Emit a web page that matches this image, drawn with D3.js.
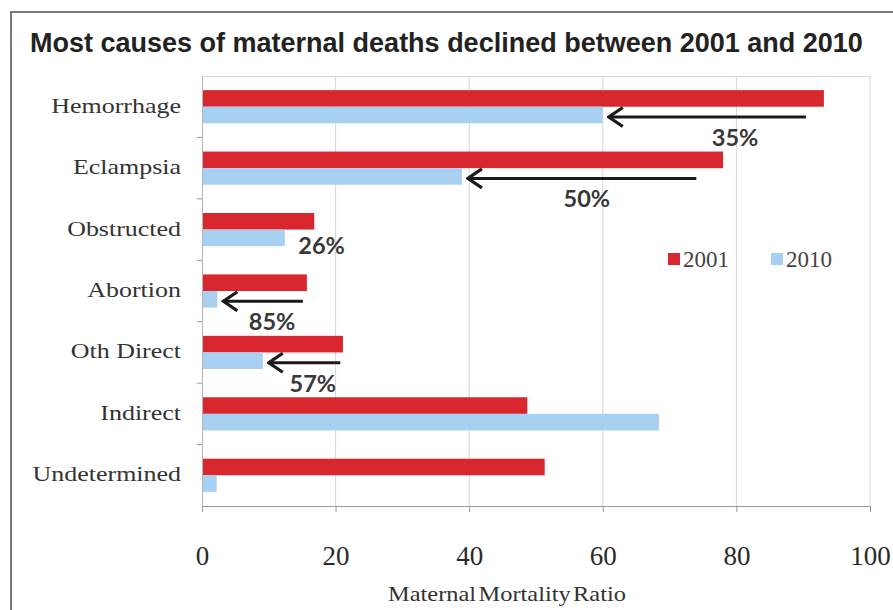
<!DOCTYPE html>
<html>
<head>
<meta charset="utf-8">
<script src="https://cdn.jsdelivr.net/npm/d3@7"></script>
<style>
  html, body { margin: 0; padding: 0; background: #fff; }
  svg { display: block; }
</style>
</head>
<body>
<svg id="chart" width="893" height="610"></svg>
<script>
// Causes of maternal death, maternal mortality ratio in 2001 and 2010
const categories = ["Hemorrhage", "Eclampsia", "Obstructed", "Abortion", "Oth Direct", "Indirect", "Undetermined"];
const values2001 = [93.1, 78.0, 16.8, 15.7, 21.1, 48.7, 51.3];
const values2010 = [60.0, 38.9, 12.4, 2.3, 9.1, 68.4, 2.2];
const seriesNames = ["2001", "2010"];
const xTicks = [0, 20, 40, 60, 80, 100];

// Decline annotations: category, arrow tail value (null = no arrow), label text, label centre value
const declineCats = ["Hemorrhage", "Eclampsia", "Obstructed", "Abortion", "Oth Direct"];
const declineArrowFrom = [90.4, 74.0, null, 15.1, 20.7];
const declineLabels = ["35%", "50%", "26%", "85%", "57%"];
const declineLabelAt = [79.8, 57.6, 17.9, 10.5, 16.6];

const colors = { "2001": "#d8272e", "2010": "#a8d1f1" };
const serif = "Liberation Serif, Times New Roman, serif";

const svg = d3.select("#chart");
const W = 893, H = 610;
const m = { left: 202, right: 23, top: 76, bottom: 104 };

// outer frame
svg.append("rect").attr("x", 11).attr("y", 12).attr("width", W).attr("height", H)
  .attr("fill", "#fff").attr("stroke", "#7a7a7a").attr("stroke-width", 2);

svg.append("text")
  .attr("x", 30).attr("y", 52)
  .attr("font-family", "Liberation Sans, Arial, sans-serif")
  .attr("font-weight", "bold").attr("font-size", 27)
  .attr("fill", "#222")
  .text("Most causes of maternal deaths declined between 2001 and 2010");

const x = d3.scaleLinear().domain([0, 100]).range([m.left, W - m.right]);
const y = d3.scaleBand().domain(categories).range([m.top, H - m.bottom]).paddingInner(0.46).paddingOuter(0.23);
const ySub = d3.scaleBand().domain(seriesNames).range([0, y.bandwidth()]);

// gridlines
svg.append("g").selectAll("line").data(xTicks.slice(1)).join("line")
  .attr("x1", d => x(d)).attr("x2", d => x(d))
  .attr("y1", m.top).attr("y2", H - m.bottom)
  .attr("stroke", "#d6d6d6").attr("stroke-width", 1);
// plot top border
svg.append("line").attr("x1", x(0)).attr("x2", x(100)).attr("y1", m.top + 0.5).attr("y2", m.top + 0.5)
  .attr("stroke", "#d6d6d6");

// bars
const rows = categories.map((c, i) => ({ cat: c, "2001": values2001[i], "2010": values2010[i] }));
const g = svg.append("g");
rows.forEach(r => {
  seriesNames.forEach(s => {
    g.append("rect")
      .attr("x", x(0))
      .attr("y", y(r.cat) + ySub(s))
      .attr("width", x(r[s]) - x(0))
      .attr("height", ySub.bandwidth())
      .attr("fill", colors[s]);
  });
});

// y axis
const bandStep = y.step();
const yAxisG = svg.append("g");
yAxisG.append("line").attr("x1", x(0) + 0.5).attr("x2", x(0) + 0.5).attr("y1", m.top).attr("y2", H - m.bottom)
  .attr("stroke", "#b5b5b5");
d3.range(1, categories.length).forEach(i => {
  const yy = m.top + i * bandStep;
  yAxisG.append("line").attr("x1", x(0) - 5).attr("x2", x(0)).attr("y1", yy).attr("y2", yy).attr("stroke", "#999");
});
yAxisG.selectAll("text").data(categories).join("text")
  .attr("transform", d => `translate(181,${y(d) + y.bandwidth() / 2 + 6}) scale(1.18,1)`)
  .attr("text-anchor", "end")
  .attr("font-family", serif)
  .attr("font-size", 22).attr("fill", "#333")
  .text(d => d);

// x axis
const xAxis = d3.axisBottom(x).tickValues(xTicks).tickSize(6).tickFormat(d3.format("d"));
const xg = svg.append("g").attr("transform", `translate(0,${H - m.bottom})`).call(xAxis);
xg.select(".domain").attr("stroke", "#999");
xg.selectAll(".tick line").attr("stroke", "#999");
xg.selectAll(".tick text")
  .attr("dy", 0).attr("y", 59)
  .attr("font-family", serif)
  .attr("font-size", 27).attr("fill", "#2a2a2a");

svg.append("text")
  .attr("transform", `translate(507,601) scale(1.22,1)`)
  .attr("text-anchor", "middle")
  .attr("font-family", serif)
  .attr("font-size", 20).attr("fill", "#333")
  .attr("word-spacing", -3)
  .text("Maternal Mortality Ratio");

// legend
const legend = svg.append("g").attr("transform", "translate(668,253)");
seriesNames.forEach((s, i) => {
  const lg = legend.append("g").attr("transform", `translate(${i * 103},0)`);
  lg.append("rect").attr("width", 12).attr("height", 12).attr("fill", colors[s]);
  lg.append("text").attr("x", 15).attr("y", 14)
    .attr("font-family", serif)
    .attr("font-size", 23).attr("fill", "#444").text(s);
});

// decline arrows and percentage labels
svg.append("defs").append("marker")
  .attr("id", "head").attr("viewBox", "0 0 17 22").attr("refX", 15).attr("refY", 11)
  .attr("markerWidth", 17).attr("markerHeight", 22).attr("markerUnits", "userSpaceOnUse")
  .attr("orient", "auto")
  .append("path").attr("d", "M1,1.5 L15,11 L1,20.5").attr("fill", "none")
  .attr("stroke", "#1a1a1a").attr("stroke-width", 3.2).attr("stroke-linejoin", "miter");

declineCats.forEach((c, i) => {
  const k = categories.indexOf(c);
  const yBlue = y(c) + ySub("2010") + ySub.bandwidth() / 2;
  const hasArrow = declineArrowFrom[i] !== null;
  if (hasArrow) {
    const yArrow = yBlue + 2;
    svg.append("line")
      .attr("x1", x(declineArrowFrom[i])).attr("x2", x(values2010[k]) + 6)
      .attr("y1", yArrow).attr("y2", yArrow)
      .attr("stroke", "#1a1a1a").attr("stroke-width", 3)
      .attr("marker-end", "url(#head)");
  }
  svg.append("text")
    .attr("x", x(declineLabelAt[i])).attr("y", yBlue + (hasArrow ? 31 : 16))
    .attr("text-anchor", "middle")
    .attr("font-family", "Lato, Open Sans, sans-serif")
    .attr("font-weight", "bold").attr("font-size", 23.5).attr("fill", "#383838")
    .text(declineLabels[i]);
});
</script>
</body>
</html>
